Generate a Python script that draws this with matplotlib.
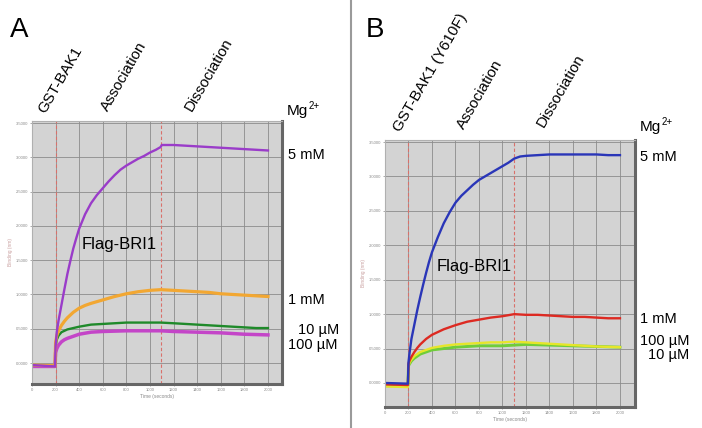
import matplotlib
matplotlib.use('Agg')
import matplotlib.pyplot as plt
from matplotlib.lines import Line2D

plt.rcParams['font.family'] = ['Liberation Sans', 'DejaVu Sans']

# ---------------- data ----------------
# Panel A : GST-BAK1
tA_5mM = [0, 100, 195, 200, 210, 225, 250, 275, 300, 325, 350, 375, 400, 450, 500, 550, 600, 650, 700, 750,
          800, 850, 900, 950, 1000, 1050, 1090, 1100, 1200, 1300, 1400, 1500, 1600, 1700, 1800, 1900, 2000]
vA_5mM = [-0.03, -0.04, -0.05, 0.25, 0.45, 0.62, 0.85, 1.08, 1.30, 1.49, 1.67, 1.82, 1.96, 2.17, 2.33, 2.45,
          2.55, 2.65, 2.74, 2.82, 2.88, 2.93, 2.98, 3.02, 3.07, 3.11, 3.15, 3.18, 3.18, 3.17, 3.16, 3.15,
          3.14, 3.13, 3.12, 3.11, 3.10]
tA_1mM = [0, 195, 200, 210, 225, 250, 275, 300, 350, 400, 450, 500, 600, 700, 800, 900, 1000, 1090, 1200,
          1300, 1400, 1500, 1600, 1700, 1800, 1900, 2000]
vA_1mM = [-0.03, -0.04, 0.30, 0.40, 0.47, 0.55, 0.61, 0.66, 0.74, 0.80, 0.84, 0.87, 0.92, 0.97, 1.01, 1.04,
          1.06, 1.07, 1.06, 1.05, 1.04, 1.03, 1.01, 1.00, 0.99, 0.98, 0.97]
tA_10uM = [0, 195, 200, 210, 225, 250, 275, 300, 350, 400, 500, 600, 700, 800, 900, 1000, 1090, 1200, 1300,
           1400, 1500, 1600, 1700, 1800, 1900, 2000]
vA_10uM = [-0.03, -0.04, 0.25, 0.34, 0.40, 0.45, 0.47, 0.49, 0.51, 0.53, 0.56, 0.57, 0.58, 0.59, 0.59, 0.59,
           0.59, 0.58, 0.57, 0.56, 0.55, 0.54, 0.53, 0.52, 0.51, 0.51]
tA_100uM = [0, 195, 200, 210, 225, 250, 275, 300, 350, 400, 500, 600, 800, 1000, 1090, 1200, 1400, 1600,
            1800, 2000]
vA_100uM = [-0.05, -0.05, 0.15, 0.21, 0.26, 0.31, 0.34, 0.36, 0.39, 0.42, 0.45, 0.46, 0.47, 0.47, 0.47,
            0.46, 0.45, 0.44, 0.42, 0.41]

# Panel B : GST-BAK1 (Y610F)
tB_5mM = [0, 195, 200, 210, 225, 250, 275, 300, 325, 350, 375, 400, 450, 500, 550, 600, 650, 700, 750, 800,
          850, 900, 950, 1000, 1050, 1100, 1150, 1200, 1300, 1400, 1500, 1600, 1700, 1800, 1900, 2000]
vB_5mM = [0.0, -0.01, 0.30, 0.45, 0.64, 0.85, 1.06, 1.25, 1.43, 1.60, 1.76, 1.90, 2.12, 2.32, 2.48, 2.62,
          2.72, 2.80, 2.88, 2.95, 3.00, 3.05, 3.10, 3.15, 3.20, 3.26, 3.29, 3.30, 3.31, 3.32, 3.32, 3.32,
          3.32, 3.32, 3.31, 3.31]
tB_1mM = [0, 195, 200, 210, 225, 250, 275, 300, 350, 400, 450, 500, 600, 700, 800, 900, 1000, 1100, 1200,
          1300, 1400, 1500, 1600, 1700, 1800, 1900, 2000]
vB_1mM = [-0.02, -0.03, 0.28, 0.33, 0.38, 0.45, 0.51, 0.56, 0.64, 0.70, 0.74, 0.78, 0.84, 0.89, 0.92, 0.95,
          0.97, 1.00, 0.99, 0.99, 0.98, 0.97, 0.96, 0.96, 0.95, 0.94, 0.94]
tB_100uM = [0, 195, 200, 210, 225, 250, 275, 300, 350, 400, 500, 600, 700, 800, 900, 1000, 1100, 1200, 1400,
            1600, 1800, 2000]
vB_100uM = [-0.05, -0.06, 0.25, 0.30, 0.34, 0.39, 0.42, 0.45, 0.48, 0.51, 0.54, 0.56, 0.57, 0.58, 0.59,
            0.59, 0.60, 0.59, 0.57, 0.55, 0.53, 0.52]
tB_10uM = [0, 195, 200, 210, 225, 250, 275, 300, 350, 400, 500, 600, 700, 800, 900, 1000, 1100, 1200, 1400,
           1600, 1800, 2000]
vB_10uM = [-0.04, -0.04, 0.25, 0.28, 0.32, 0.36, 0.39, 0.42, 0.45, 0.48, 0.50, 0.52, 0.53, 0.54, 0.54,
           0.54, 0.55, 0.56, 0.55, 0.54, 0.53, 0.52]

x_ticks = [0, 200, 400, 600, 800, 1000, 1200, 1400, 1600, 1800, 2000]
y_ticks = [0.0, 0.5, 1.0, 1.5, 2.0, 2.5, 3.0, 3.5]
phase_A = [200, 1090]
phase_B = [200, 1100]

# ---------------- figure ----------------
W, H = 702, 428
fig = plt.figure(figsize=(W / 100, H / 100), dpi=100)
fig.patch.set_facecolor('white')


def px(x, y):
    return x / W, 1 - y / H


def make_axes(left, top, right, bottom, xmax, ymin, ymax, phases):
    ax = fig.add_axes([left / W, 1 - bottom / H, (right - left) / W, (bottom - top) / H])
    ax.set_facecolor('#d3d3d3')
    ax.set_xlim(0, xmax)
    ax.set_ylim(ymin, ymax)
    ax.set_xticks(x_ticks)
    ax.set_yticks(y_ticks)
    ax.set_yticklabels([f'{v:.4f}' for v in y_ticks])
    ax.tick_params(labelsize=3, colors='#8a8a8a', length=1.5, width=0.5, pad=1.5)
    ax.grid(True, color='#8c8c8c', lw=0.6)
    ax.set_axisbelow(True)
    for s in ['left', 'top']:
        ax.spines[s].set_color('#b0b0b0')
        ax.spines[s].set_linewidth(0.8)
    for s in ['right', 'bottom']:
        ax.spines[s].set_color('#666666')
        ax.spines[s].set_linewidth(2.2)
    for p in phases:
        ax.axvline(p, color='#d9706a', lw=0.8, ls=(0, (3, 2)), zorder=1.5)
    ax.set_xlabel('Time (seconds)', fontsize=3.5, color='#8a8a8a', labelpad=1)
    ax.set_ylabel('Binding (nm)', fontsize=3.5, color='#c9a0a0', labelpad=2)
    return ax


axA = make_axes(32, 121, 282, 384, 2119, -0.306, 3.53, phase_A)
axB = make_axes(385, 140, 635, 407, 2128, -0.349, 3.53, phase_B)

lw = 1.7
axA.plot(tA_100uM, vA_100uM, color='#c445c8', lw=lw + 0.8)
axA.plot(tA_10uM, vA_10uM, color='#1f8a2a', lw=lw)
axA.plot(tA_1mM, vA_1mM, color='#f2a732', lw=lw + 0.6)
axA.plot(tA_5mM, vA_5mM, color='#9a3cc9', lw=lw)

axB.plot(tB_10uM, vB_10uM, color='#6fcd3a', lw=lw + 0.4)
axB.plot(tB_100uM, vB_100uM, color='#e6e62a', lw=lw)
axB.plot(tB_1mM, vB_1mM, color='#dd2a22', lw=lw)
axB.plot(tB_5mM, vB_5mM, color='#2a36b8', lw=lw)

# separator between panels
fig.add_artist(Line2D([351 / W, 351 / W], [0, 1], color='#9a9a9a', lw=1.5))

# panel letters
fig.text(*px(10, 37), 'A', fontsize=20, ha='left', va='baseline')
fig.text(*px(366, 37), 'B', fontsize=20, ha='left', va='baseline')

rot = 60
lab_fs = 11
for x, y, s in [(45, 114, 'GST-BAK1'), (108, 112, 'Association'), (192, 112, 'Dissociation'),
                (400, 133, 'GST-BAK1 (Y610F)'), (464, 130, 'Association'), (544, 128, 'Dissociation')]:
    fig.text(*px(x, y), s, fontsize=lab_fs, rotation=rot, rotation_mode='anchor',
             ha='left', va='baseline')

# Mg2+ headers (superscript drawn as a smaller raised text)
for x, y in [(287, 115), (640, 131)]:
    fig.text(*px(x, y), 'Mg', fontsize=11, ha='left', va='baseline')
    fig.text(*px(x + 21.5, y - 6), '2+', fontsize=7, ha='left', va='baseline')

fs = 10.5
for x, y, s in [(288, 155, '5 mM'), (288, 300, '1 mM'), (298, 330, '10 µM'), (288, 345, '100 µM'),
                (640, 157, '5 mM'), (640, 319, '1 mM'), (640, 341, '100 µM'), (648, 355, '10 µM')]:
    fig.text(*px(x, y), s, fontsize=fs, ha='left', va='center')

fig.text(*px(82, 245), 'Flag-BRI1', fontsize=12, ha='left', va='center')
fig.text(*px(437, 267), 'Flag-BRI1', fontsize=12, ha='left', va='center')

fig.savefig('out.png', dpi=100)
